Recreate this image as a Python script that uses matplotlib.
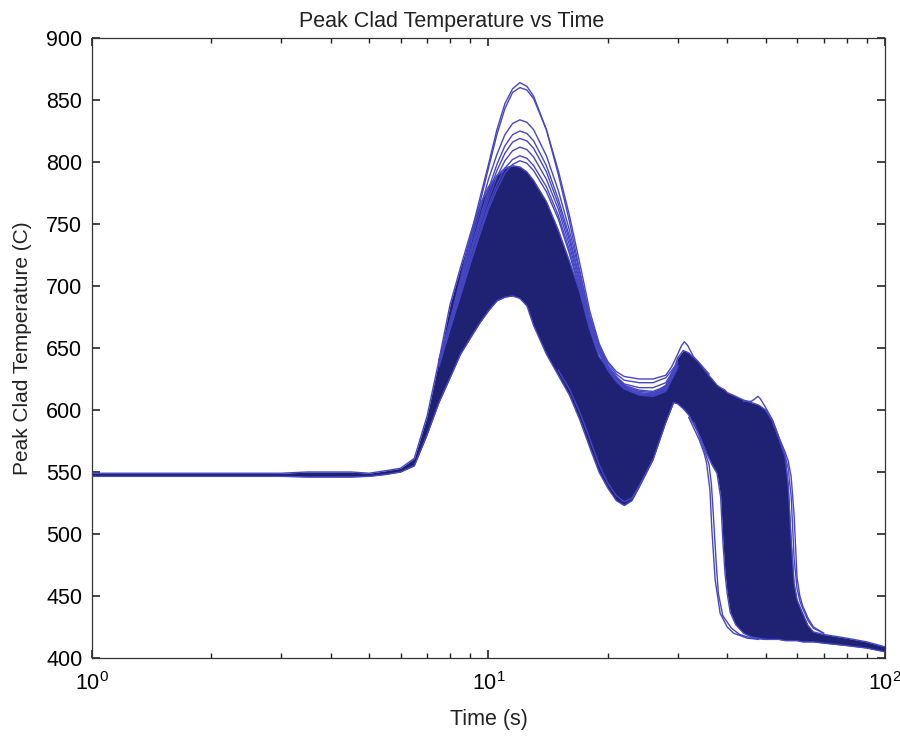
import matplotlib
matplotlib.use('Agg')
import matplotlib.pyplot as plt
import numpy as np

plt.rcParams['font.family'] = ['Liberation Sans', 'DejaVu Sans']
plt.rcParams['mathtext.default'] = 'regular'

# dense band of runs: upper / lower edge
t_band = [1, 3, 3.5, 4, 4.5, 5, 5.5, 6, 6.5, 7, 7.5, 8, 8.5, 9, 9.5, 10, 10.5, 11,
          11.5, 12, 12.5, 13, 14, 15, 16, 17, 18, 19, 20, 21, 22, 23, 24, 26, 28, 29.3,
          30, 31, 32, 34, 35.5, 36.6, 37.7, 38.5, 39, 39.5, 40, 40.7, 42, 44, 46, 48,
          50, 52, 54, 56, 57, 58, 59, 60, 62, 64, 66, 70, 80, 90, 100]
band_hi = [549, 549, 550, 550, 550, 549, 551, 553, 561, 595, 640, 685, 715, 742, 765, 780, 789, 795,
           797, 796, 792, 785, 768, 745, 720, 695, 665, 643, 634, 627, 620, 615, 613, 613, 620, 632,
           642, 648, 646, 638, 630, 625, 620, 618, 617, 616, 614, 613, 611, 608, 606, 604,
           600, 592, 578, 562, 540, 495, 460, 447, 436, 426, 421, 419, 416, 413, 409]
band_lo = [546.5, 546.5, 546, 546, 546, 546.5, 548, 550, 555, 580, 606, 626, 645, 658, 670, 680, 688, 691,
           692, 690, 684, 668, 645, 628, 612, 592, 570, 550, 537, 527, 523, 527, 538, 560, 590, 606,
           605, 601, 596, 580, 565, 556, 549, 530, 495, 468, 452, 437, 427, 420, 417, 416,
           415, 415, 415, 414, 414, 414, 414, 414, 413, 413, 413, 412, 410, 408, 405]

# runs that stick out of the band
t_a = [7.5, 8, 8.5, 9, 9.5, 10, 10.5, 11, 11.5, 12, 12.5, 13, 14, 15, 16, 17, 18, 19, 20, 21,
       22, 24, 26, 28, 29, 30, 30.7, 31.2, 31.8, 32.9, 34, 36]
T_a = [640, 672, 706, 740, 770, 798, 826, 847, 859, 864, 861, 853, 826, 790, 752, 712, 675, 652, 639, 631,
       627, 625, 625, 628, 635, 645, 652, 655, 652, 643, 638, 629]

t_pk = [7.5, 8, 8.5, 9, 9.5, 10, 10.5, 11, 11.5, 12, 12.5, 13, 14, 15, 16, 17, 18, 19, 20, 21,
        22, 24, 26, 28, 30]
T_b = [638, 668, 702, 736, 766, 795, 822, 843, 856, 860, 858, 851, 826, 793, 757, 718, 680, 654, 638, 629,
       624, 622, 622, 626, 638]
T_c = [640, 672, 703, 733, 760, 786, 806, 822, 831, 834, 832, 826, 805, 777, 745, 710, 676, 652, 636, 627,
       621, 618, 618, 622, 638]
T_d = [638, 668, 700, 728, 754, 778, 798, 813, 822, 825, 823, 817, 797, 770, 740, 706, 673, 650, 635, 626,
       620, 616, 615, 619, 636]
T_g = [637, 667, 698, 726, 751, 774, 793, 807, 816, 819, 817, 811, 792, 766, 737, 704, 672, 649, 634, 625,
       619, 615, 614, 618, 636]
T_e = [637, 667, 697, 724, 748, 770, 788, 801, 809, 812, 810, 804, 786, 762, 733, 701, 670, 648, 634, 625,
       619, 614, 613, 617, 636]
T_f = [636, 666, 694, 720, 744, 765, 782, 795, 802, 805, 803, 797, 780, 757, 729, 698, 668, 647, 633, 624,
       618, 613, 612, 616, 635]
T_h = [635, 665, 692, 718, 741, 762, 778, 791, 798, 801, 799, 793, 776, 754, 726, 696, 667, 646, 632, 623,
       617, 612, 611, 615, 634]

t_dip = [15, 16, 17, 18, 19, 20, 21, 22, 23, 24, 26]
T_dip = [632, 617, 598, 577, 556, 541, 531, 526, 529, 539, 560]

t_r1 = [44, 46, 47, 47.8, 48.5, 50, 52, 54, 56, 57, 58, 59, 60, 61, 62, 64, 66, 70]
T_r1 = [607, 607, 609, 611, 609, 602, 592, 578, 566, 559, 546, 515, 465, 450, 442, 432, 425, 420]
t_r2 = [50, 52, 54, 56, 57, 58, 58.5, 59, 60, 61, 62, 64, 66, 70]
T_r2 = [600, 591, 577, 563, 553, 530, 505, 480, 456, 446, 440, 430, 424, 420]

t_l1 = [32, 34, 35, 35.5, 36.2, 36.6, 37.3, 38.4, 40, 41.5, 44.9, 48]
T_l1 = [594, 576, 565, 557, 535, 503, 463, 436, 425, 420, 416, 415]
t_l2 = [33, 35, 36, 36.5, 37, 37.5, 38, 39, 41, 43, 46, 50]
T_l2 = [590, 568, 556, 540, 510, 478, 452, 434, 424, 419, 416, 415]

fill_col = '#1f2172'
line_col = '#4646c4'

fig = plt.figure(figsize=(9, 7.36), dpi=100)
ax = fig.add_axes([0.1022, 0.106, 0.8811, 0.8424])

ax.fill_between(t_band, band_lo, band_hi, color=fill_col, lw=0, zorder=2)
ax.plot(t_band, band_hi, color=line_col, lw=1.0, zorder=3)
ax.plot(t_band, band_lo, color=line_col, lw=1.0, zorder=3)

ax.plot(t_a, T_a, color=line_col, lw=1.0, zorder=3)
for T in (T_b, T_c, T_d, T_g, T_e, T_f, T_h):
    ax.plot(t_pk, T, color=line_col, lw=1.0, zorder=3)
ax.plot(t_dip, T_dip, color=line_col, lw=1.0, zorder=3)
ax.plot(t_r1, T_r1, color=line_col, lw=1.0, zorder=3)
ax.plot(t_r2, T_r2, color=line_col, lw=1.0, zorder=3)
ax.plot(t_l1, T_l1, color=line_col, lw=1.0, zorder=3)
ax.plot(t_l2, T_l2, color=line_col, lw=1.0, zorder=3)

ax.set_xscale('log')
ax.set_xlim(1, 100)
ax.set_ylim(400, 900)
ax.set_yticks(np.arange(400, 901, 50))

ax.tick_params(which='both', direction='in', top=True, right=True, color='#222222')
ax.tick_params(which='major', length=6, width=1.2, labelsize=15.5, pad=7)
ax.tick_params(axis='x', which='major', pad=10)
ax.tick_params(which='minor', length=3.5, width=1.0)
for s in ax.spines.values():
    s.set_color('#333333')
    s.set_linewidth(0.9)

ax.set_title('Peak Clad Temperature vs Time', fontsize=15.5, pad=8, color='#222222', x=0.453)
ax.set_xlabel('Time (s)', fontsize=15.5, labelpad=10, color='#222222')
ax.set_ylabel('Peak Clad Temperature (C)', fontsize=15, labelpad=10, color='#222222')

fig.savefig('out.png', dpi=100)
